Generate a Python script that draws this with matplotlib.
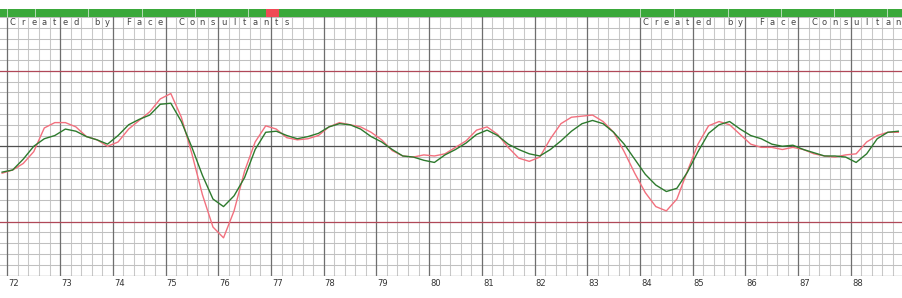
import numpy as np
import matplotlib
matplotlib.use("Agg")
import matplotlib.pyplot as plt
import matplotlib.transforms as mtransforms

# ---- data -----------------------------------------------------------
x_start, x_step = 71.9, 0.2
fast_line = [-25, -22, -16, -5, 17, 22, 22, 18, 9, 6, 0, 4, 16, 24, 32, 44, 49, 27, -7, -45,
             -75, -85, -60, -23, 4, 19, 16, 8, 6, 7, 10, 18, 22, 20, 18, 13, 6, -4, -9, -10,
             -8, -9, -7, -1, 5, 15, 18, 11, -1, -11, -14, -10, 7, 21, 27, 28, 29, 23, 13, -5,
             -25, -43, -56, -60, -49, -23, 2, 19, 23, 20, 11, 2, -1, -1, -3, -1, -3, -7, -9, -10,
             -8, -7, 4, 10, 13, 13]
slow_line = [-24, -22, -12, 0, 7, 10, 16, 14, 9, 6, 2, 10, 20, 25, 29, 39, 40, 23, -1, -27,
             -49, -56, -46, -29, -3, 13, 14, 10, 7, 9, 12, 18, 21, 20, 16, 9, 4, -3, -9, -10,
             -13, -15, -8, -3, 3, 11, 15, 10, 2, -3, -7, -9, -3, 5, 14, 21, 24, 21, 13, 2,
             -12, -26, -36, -42, -39, -24, -5, 12, 20, 23, 16, 10, 7, 2, 0, 1, -3, -6, -9, -9,
             -10, -15, -7, 7, 13, 14]
tick_values = list(range(72, 89))
tick_labels = [str(v) for v in tick_values]
banner_text = "Created by Face Consultants"
banner_starts = [72.0, 84.0]
upper_level, lower_level = 70, -70

x = x_start + x_step * np.arange(len(fast_line))

# ---- figure ---------------------------------------------------------
W, H = 902, 298
fig = plt.figure(figsize=(W / 100, H / 100), dpi=100)
ax = fig.add_axes([0, (H - 275.5) / H, 1, (275.5 - 9) / H])
x0, x1 = 71.86, 88.97
ax.set_xlim(x0, x1)
ax.set_ylim(-120, 127.5)
for s in ax.spines.values():
    s.set_visible(False)
ax.set_xticks([])
ax.set_yticks([])

# grid
minor_x = np.arange(71.0, 89.01, 0.2)
for v in minor_x:
    if x0 <= v <= x1:
        ax.axvline(v, color="#c8c8c8", lw=0.75, zorder=1)
for v in tick_values:
    ax.axvline(v, color="#6e6e6e", lw=0.9, zorder=1.2)
for v in range(-120, 121, 10):
    ax.axhline(v, color="#c0c0c0", lw=0.75, zorder=1.1)
ax.axhline(0, color="#505050", lw=0.9, zorder=1.3)
ax.axhline(upper_level, color="#b04858", lw=0.9, zorder=1.3)
ax.axhline(lower_level, color="#b04858", lw=0.9, zorder=1.3)
ax.axhline(-120, color="#888888", lw=0.9, zorder=1.3)

# banner bar
ax.axhspan(120, 127.5, color="#3aa83a", zorder=3, lw=0)
ax.axvspan(76.9, 77.16, ymin=(120 + 120) / 247.5, ymax=1, color="#f04a55", zorder=3.1, lw=0)
for v in [72.0, 72.53, 73.53, 74.55, 75.55, 76.56, 84.0, 84.65, 85.66, 86.67, 87.68, 88.69]:
    ax.plot([v, v], [120, 127.5], color="#b5dcb5", lw=0.7, zorder=3.2)

# banner text
for start in banner_starts:
    for i, ch in enumerate(banner_text):
        cx = start + 0.1 + i * 0.2
        if ch != " " and cx < x1:
            ax.text(cx, 115, ch, ha="center", va="center", fontsize=6,
                    color="#444444", zorder=4, family="DejaVu Sans")

# lines
ax.plot(x, fast_line, color="#f2707e", lw=1.0, zorder=5)
ax.plot(x, slow_line, color="#2d7a2d", lw=1.0, zorder=6)

# tick labels
trans = mtransforms.blended_transform_factory(ax.transData, fig.transFigure)
for v, lab in zip(tick_values, tick_labels):
    ax.text(v + 0.02, (H - 284) / H, lab, transform=trans, ha="left", va="center",
            fontsize=6, color="#333333")

fig.savefig("out.png", dpi=100)
